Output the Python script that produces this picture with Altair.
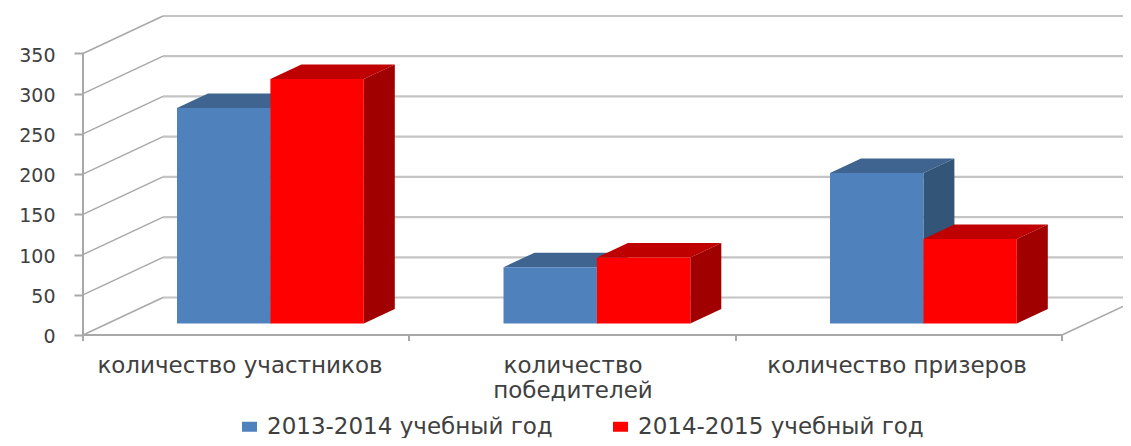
import altair as alt
import pandas as pd

# --- values
categories = ["количество участников", "количество\nпобедителей", "количество призеров"]
series_names = ["2013-2014 учебный год", "2014-2015 учебный год"]
values_2013 = [268, 70, 187]
values_2014 = [304, 82, 105]
tick_values = [0, 50, 100, 150, 200, 250, 300, 350]
front_colors = ["#4f81bd", "#ff0000"]
top_colors = ["#3f6490", "#bf0000"]
side_colors = ["#335578", "#a00000"]

# --- layout (page pixels)
PX_PER_UNIT = 281.5 / 350
AXIS_X, ZERO_Y = 83, 335
H, W = 430, 1040
to_units = lambda px: px / PX_PER_UNIT
y_domain = [to_units(ZERO_Y - (8 + H)), to_units(ZERO_Y - 8)]
x_of = lambda px: px - AXIS_X

WALL_DX, WALL_DY = 80, to_units(37.5)
BAR_LEFT, BAR_W, GROUP_STEP = 177, 93.4, 326.5
BAR_LIFT = to_units(11.5)
DEPTH_X, DEPTH_Y = 31, to_units(14.5)
FLOOR_END = 1062
RIGHT_EDGE = AXIS_X + W

# --- faces of the boxes
faces = []
for i, cat in enumerate(categories):
    for s, vals in enumerate([values_2013, values_2014]):
        v = vals[i]
        l = x_of(BAR_LEFT + GROUP_STEP * i + BAR_W * s)
        r = l + BAR_W
        b, t = BAR_LIFT, BAR_LIFT + v
        key = f"{i}-{s}"
        for x, y, y2 in [(l, t, t), (l + DEPTH_X, t + DEPTH_Y, t), (r, t + DEPTH_Y, t), (r + DEPTH_X, t + DEPTH_Y, t + DEPTH_Y)]:
            faces.append(dict(key=key, s=s, face="top", x=x, y=y, y2=y2))
        for x, y, y2 in [(r, t, b), (r + DEPTH_X, t + DEPTH_Y, b + DEPTH_Y)]:
            faces.append(dict(key=key, s=s, face="side", x=x, y=y, y2=y2))
faces = pd.DataFrame(faces)

fronts = pd.DataFrame([
    dict(series=series_names[s],
         s=s,
         x=x_of(BAR_LEFT + GROUP_STEP * i + BAR_W * s),
         x2=x_of(BAR_LEFT + GROUP_STEP * i + BAR_W * (s + 1)),
         y=BAR_LIFT, y2=BAR_LIFT + vals[i])
    for i in range(3) for s, vals in enumerate([values_2013, values_2014])
])

slants, walls = [], []
for v in tick_values:
    slants += [dict(v=v, x=0, y=v), dict(v=v, x=WALL_DX, y=v + WALL_DY)]
    walls += [dict(v=v, x=WALL_DX, y=v + WALL_DY), dict(v=v, x=x_of(RIGHT_EDGE), y=v + WALL_DY)]
end_rise = WALL_DY * (RIGHT_EDGE - FLOOR_END) / WALL_DX
slants += [dict(v=-1, x=x_of(FLOOR_END), y=0), dict(v=-1, x=x_of(RIGHT_EDGE), y=end_rise)]
slants, walls = pd.DataFrame(slants), pd.DataFrame(walls)

GRID, AXIS = "#c4c4c4", "#a8a8a8"
xs = alt.Scale(domain=[0, W], zero=False, nice=False)
ys = alt.Scale(domain=y_domain, zero=False, nice=False)
X = alt.X("x:Q", scale=xs, axis=None)
Y = alt.Y("y:Q", scale=ys, title=None, axis=alt.Axis(
    values=tick_values, domain=False, grid=False, tickSize=9, tickWidth=2, tickColor=AXIS,
    labelFont="DejaVu Sans", labelFontSize=19, labelColor="#404040", labelPadding=19, labelOffset=1.5))

wall = alt.Chart(walls).mark_line(color=GRID, strokeWidth=2.2).encode(x=X, y=Y, detail="v:N")
slant = alt.Chart(slants).mark_line(color=AXIS, strokeWidth=1.4).encode(x=X, y=Y, detail="v:N")

axes_df = pd.DataFrame({"x": [0.0], "x2": [x_of(FLOOR_END)], "y": [0.0], "top": [350.0]})
floor_line = alt.Chart(axes_df).mark_rule(color=AXIS, strokeWidth=2).encode(x=X, x2="x2:Q", y=Y)
v_axis = alt.Chart(axes_df).mark_rule(color=AXIS, strokeWidth=2).encode(x=X, y=Y, y2="top:Q")
cat_ticks = pd.DataFrame({"x": [x_of(p) for p in (83, 409, 736, 1062)], "y": [0.0] * 4, "y2": [to_units(-6)] * 4})
tick_marks = alt.Chart(cat_ticks).mark_rule(color=AXIS, strokeWidth=2).encode(x=X, y=Y, y2="y2:Q")

layers = [wall, slant, floor_line, v_axis, tick_marks]
color = alt.Color("series:N", scale=alt.Scale(domain=series_names, range=front_colors),
                  legend=alt.Legend(orient="none", legendX=155, legendY=407, direction="horizontal",
                                    columns=2, title=None, symbolType="M-1.5,-1H1.5V1H-1.5Z", symbolSize=100,
                                    symbolStrokeWidth=0, labelFont="DejaVu Sans", labelFontSize=23,
                                    labelColor="#404040", columnPadding=56, labelOffset=6, labelLimit=400))
for s in (0, 1):
    for face, colors in (("top", top_colors), ("side", side_colors)):
        d = faces[(faces.s == s) & (faces.face == face)]
        layers.append(alt.Chart(d).mark_area(color=colors[s], opacity=1).encode(
            x=X, y=Y, y2="y2:Q", detail="key:N"))
    layers.append(alt.Chart(fronts[fronts.s == s]).mark_rect().encode(
        x=X, x2="x2:Q", y=Y, y2="y2:Q", color=color))

labels = pd.DataFrame({"label": categories, "x": [x_of(p) for p in (240, 573, 897)]})
layers.append(alt.Chart(labels).mark_text(
    font="DejaVu Sans", fontSize=23, color="#404040", baseline="top", align="center",
    lineBreak="\n", lineHeight=25).encode(x=X, y=alt.value(347), text="label:N"))

chart = alt.layer(*layers).properties(
    width=W, height=H,
    autosize=alt.AutoSizeParams(type="none"),
    padding={"left": 75, "top": 0, "right": 0, "bottom": 0},
).configure_view(stroke=None)

chart.save("out.html", embed_options={"renderer": "svg", "actions": False})
